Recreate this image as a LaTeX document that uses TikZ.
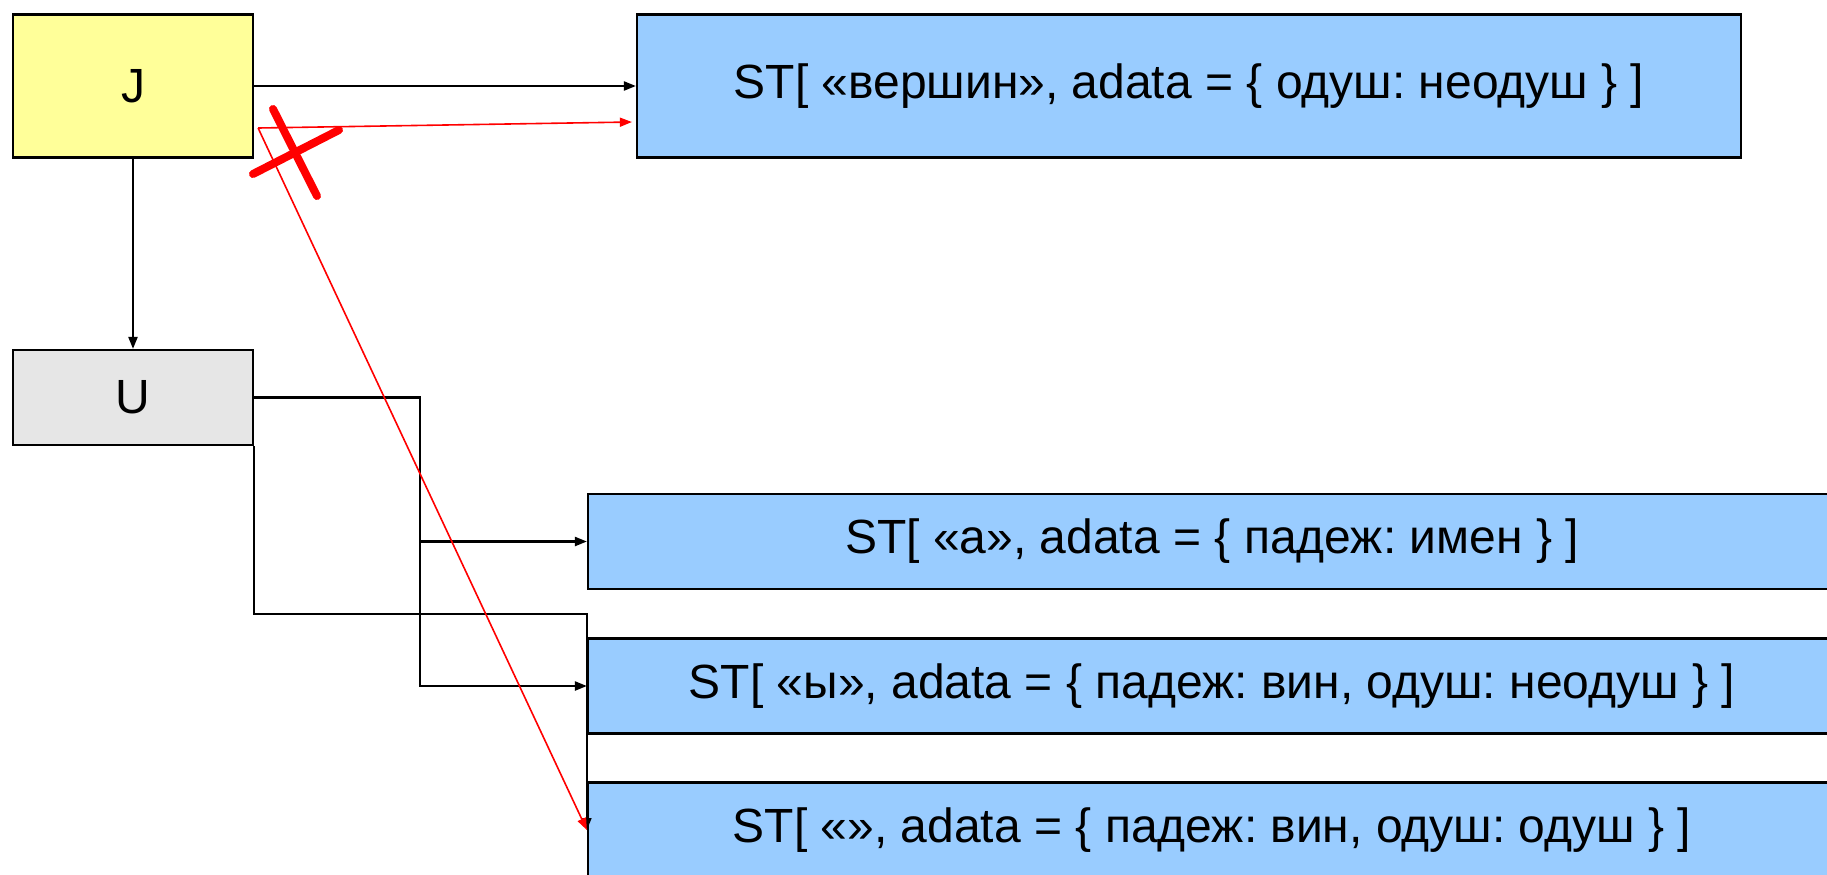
\documentclass[tikz,border=0pt]{standalone}
\usepackage{fontspec}
\setmainfont{Liberation Sans}
\usetikzlibrary{arrows.meta,calc}
\definecolor{jyellow}{HTML}{FFFF99}
\definecolor{stblue}{HTML}{99CCFF}
\definecolor{ugray}{HTML}{E6E6E6}
\frenchspacing

\begin{document}
\begin{tikzpicture}[
  x=0.5pt,y=-0.5pt,
  >={Triangle[length=6pt,width=4.5pt]},
  box/.style={draw,line width=1.1pt,inner sep=0pt,font=\fontsize{24}{29}\selectfont},
  st/.style={box,fill=stblue,minimum width=624pt,minimum height=47.5pt},
  link/.style={->,line width=1.1pt},
  bad/.style={->,red,line width=0.8pt}
]
\clip (0,0) rectangle (1827,874);

% --- left: J and U ---
\node[box,fill=jyellow,minimum width=120pt,minimum height=71.5pt] (J) at (133,86) {J};
\node[box,fill=ugray,minimum width=120pt,minimum height=47.5pt] (U) at (133,397.5) {U};

% --- right: ST boxes ---
\node[box,fill=stblue,minimum width=552pt,minimum height=71.5pt] (top) at (1189,86)
  {ST[ «вершин», adata = \{ одуш: неодуш \} ]};
\node[st] (b2) at (1212,541.5) {ST[ «а», adata = \{ падеж: имен \} ]};
\node[st] (b3) at (1212,686) {ST[ «ы», adata = \{ падеж: вин, одуш: неодуш \} ]};
\node[st] (b4) at (1212,830) {ST[ «», adata = \{ падеж: вин, одуш: одуш \} ]};

% --- black links ---
\draw[link] (J.east) -- (top.west);
\draw[link] (J.south) -- (U.north);
\coordinate (fork) at ($(b2.west)+(-167,0)$);
\draw[link] (U.east) -| (fork) -- (b2.west);
\draw[link] (fork) |- (b3.west);
\draw[link] (U.south east) -- ++(0,168) -| (b4.west);

% --- red links, one crossed out ---
\coordinate (rs) at ($(J.east)+(4,42)$);
\draw[bad] (rs) -- ($(top.west)+(-4,36)$);
\draw[bad] (rs) -- (b4.west);
\draw[red,line width=4pt,line cap=round] (273,109) -- (317,196);
\draw[red,line width=4pt,line cap=round] (253,174) -- (339,130);
\end{tikzpicture}
\end{document}
